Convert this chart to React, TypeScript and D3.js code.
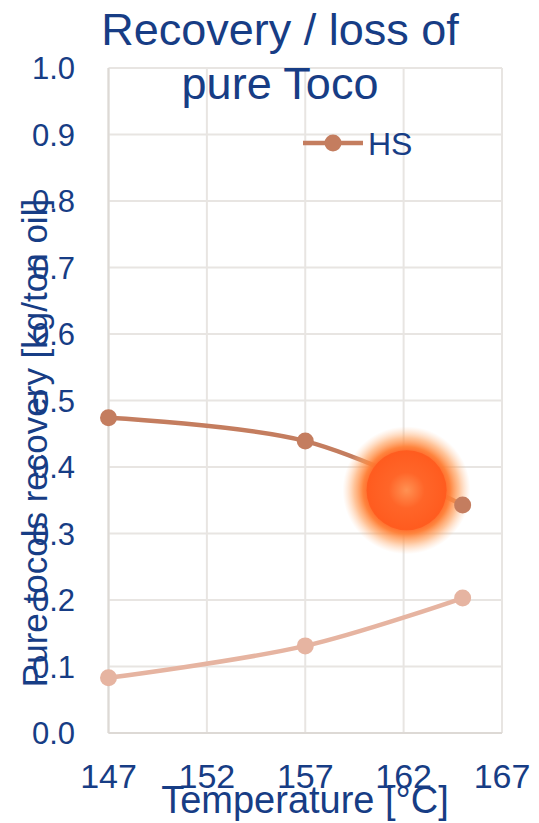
import React from "react";
import * as d3 from "d3";

// Temperatures (°C) and recovered pure tocols (kg/ton oil)
const temperatures = [147, 157, 165];
const hsValues = [0.474, 0.439, 0.343];
const lossValues = [0.083, 0.131, 0.203];
const xTicks = [147, 152, 157, 162, 167];
const yTicks = [0, 0.1, 0.2, 0.3, 0.4, 0.5, 0.6, 0.7, 0.8, 0.9, 1.0];
const titleLines = ["Recovery / loss of", "pure Toco"];
const legendLabel = "HS";
const highlight = { x: 162.15, y: 0.365 };

const W = 539;
const H = 823;
const FONT = "'Liberation Sans', Arial, sans-serif";
const BLUE = "#173D85";
const HS_COLOR = "#C47D5F";
const LOSS_COLOR = "#E6B4A1";
const GRID = "#E8E5E2";

export default function App() {
  const x = d3.scaleLinear().domain([147, 167]).range([108.5, 502]);
  const y = d3.scaleLinear().domain([0, 1]).range([733, 68]);

  const line = d3
    .line<number>()
    .x((_, i) => x(temperatures[i]))
    .y((d) => y(d))
    .curve(d3.curveCatmullRom.alpha(0.5));

  const hx = x(highlight.x);
  const hy = y(highlight.y);

  return (
    <svg
      width={W}
      height={H}
      style={{ position: "absolute", left: 0, top: 0, background: "#fff" }}
      fontFamily={FONT}
    >
      <defs>
        <radialGradient id="glow">
          <stop offset="0" stopColor="#FF6A2A" stopOpacity={1} />
          <stop offset="0.6" stopColor="#FF6A2A" stopOpacity={1} />
          <stop offset="0.68" stopColor="#FF7E34" stopOpacity={0.95} />
          <stop offset="0.82" stopColor="#FF9C55" stopOpacity={0.6} />
          <stop offset="1" stopColor="#FFC090" stopOpacity={0} />
        </radialGradient>
        <radialGradient id="core">
          <stop offset="0" stopColor="#FF9A5C" />
          <stop offset="0.45" stopColor="#FF6428" />
          <stop offset="1" stopColor="#FF581C" />
        </radialGradient>
      </defs>

      {/* grid */}
      {yTicks.map((t) => (
        <line
          key={"gy" + t}
          x1={x(147)}
          x2={x(167)}
          y1={y(t)}
          y2={y(t)}
          stroke={GRID}
          strokeWidth={2}
        />
      ))}
      {xTicks.map((t) => (
        <line
          key={"gx" + t}
          x1={x(t)}
          x2={x(t)}
          y1={y(0)}
          y2={y(1)}
          stroke={GRID}
          strokeWidth={2}
        />
      ))}
      <line x1={x(147)} x2={x(147)} y1={y(0)} y2={y(1)} stroke="#DDD9D5" strokeWidth={2} />
      <line x1={x(147)} x2={x(167)} y1={y(0)} y2={y(0)} stroke="#DDD9D5" strokeWidth={2} />

      {/* y tick labels */}
      {yTicks.map((t) => (
        <text
          key={"ly" + t}
          x={75}
          y={y(t)}
          dy="0.36em"
          textAnchor="end"
          fontSize={31}
          fill={BLUE}
        >
          {t.toFixed(1)}
        </text>
      ))}

      {/* x tick labels */}
      {xTicks.map((t) => (
        <text
          key={"lx" + t}
          x={x(t)}
          y={788}
          textAnchor="middle"
          fontSize={34}
          fill={BLUE}
        >
          {t}
        </text>
      ))}

      {/* series lines */}
      <path d={line(lossValues) || ""} fill="none" stroke={LOSS_COLOR} strokeWidth={4.5} />
      <path d={line(hsValues) || ""} fill="none" stroke={HS_COLOR} strokeWidth={4.5} />

      {/* highlighted region */}
      <circle cx={hx} cy={hy} r={64} fill="url(#glow)" />
      <circle cx={hx} cy={hy} r={40} fill="url(#core)" opacity={0.82} />

      {/* markers */}
      {lossValues.map((v, i) => (
        <circle key={"ml" + i} cx={x(temperatures[i])} cy={y(v)} r={8.5} fill={LOSS_COLOR} />
      ))}
      {hsValues.map((v, i) => (
        <circle key={"mh" + i} cx={x(temperatures[i])} cy={y(v)} r={8.5} fill={HS_COLOR} />
      ))}

      {/* legend */}
      <line x1={303} x2={363} y1={143} y2={143} stroke={HS_COLOR} strokeWidth={4.5} />
      <circle cx={333} cy={143} r={8.5} fill={HS_COLOR} />
      <text x={368} y={155} fontSize={32} fill={BLUE}>
        {legendLabel}
      </text>

      {/* title */}
      {titleLines.map((s, i) => (
        <text
          key={"t" + i}
          x={280}
          y={45 + i * 54}
          textAnchor="middle"
          fontSize={45}
          fill={BLUE}
        >
          {s}
        </text>
      ))}

      {/* axis titles */}
      <text x={305} y={813} textAnchor="middle" fontSize={38} fill={BLUE}>
        Temperature [°C]
      </text>
      <text
        transform={`translate(47, 443) rotate(-90)`}
        textAnchor="middle"
        fontSize={35}
        fill={BLUE}
      >
        Pure tocols recovery [kg/ton oil]
      </text>
    </svg>
  );
}
